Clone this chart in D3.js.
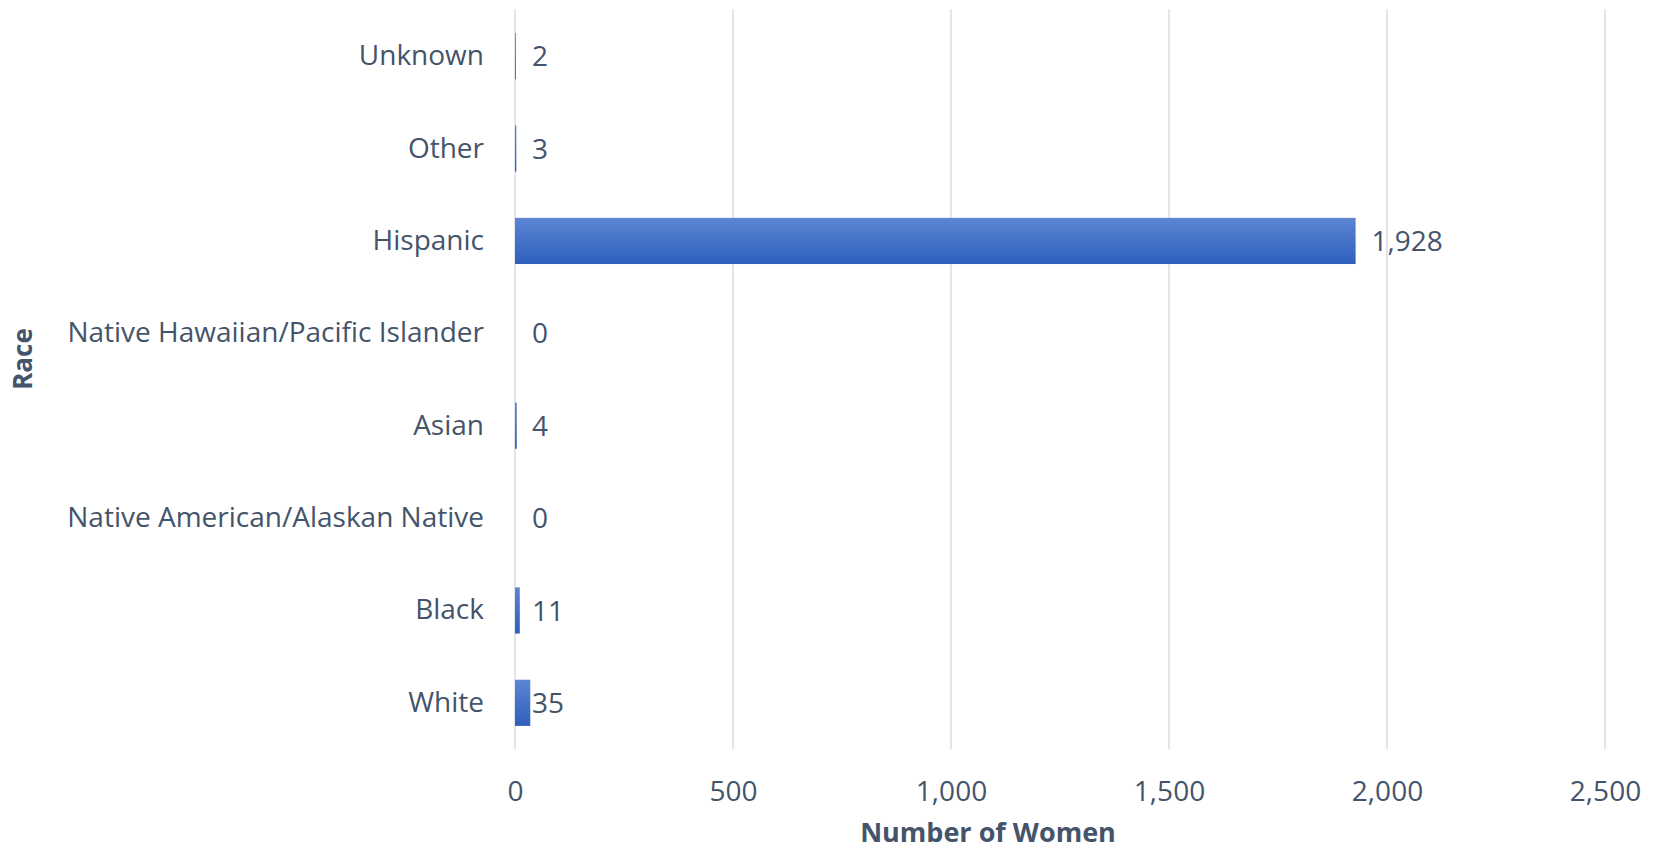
<!DOCTYPE html>
<html lang="en">
<head>
<meta charset="utf-8">
<title>Race - Number of Women</title>
<script src="https://d3js.org/d3.v7.min.js"></script>
<style>
  body { margin: 0; background: #fff; }
  .chart text { font-family: "Open Sans", sans-serif; fill: #44546a; }
</style>
</head>
<body>
<div id="chart" class="chart"></div>
<script>
// data, bottom to top as in the picture
var races = ["White", "Black", "Native American/Alaskan Native", "Asian",
             "Native Hawaiian/Pacific Islander", "Hispanic", "Other", "Unknown"];
var women = [35, 11, 0, 4, 0, 1928, 3, 2];
var xTicks = [0, 500, 1000, 1500, 2000, 2500];

var W = 1657, H = 852;
var margin = {top: 10, right: 52, bottom: 103, left: 515};

var svg = d3.select("#chart").append("svg")
  .attr("width", W).attr("height", H);

var defs = svg.append("defs");
var grad = defs.append("linearGradient")
  .attr("id", "barFill").attr("x1", 0).attr("y1", 0).attr("x2", 0).attr("y2", 1);
grad.append("stop").attr("offset", "0%").attr("stop-color", "#5d86d3");
grad.append("stop").attr("offset", "100%").attr("stop-color", "#2d5fbd");

var x = d3.scaleLinear().domain([0, 2500]).range([margin.left, W - margin.right]);
var y = d3.scaleBand()
  .domain(races.slice().reverse())
  .range([margin.top, H - margin.bottom])
  .paddingInner(0.5)
  .paddingOuter(0.25);

// gridlines
svg.append("g").selectAll("line")
  .data(xTicks)
  .join("line")
  .attr("x1", d => x(d)).attr("x2", d => x(d))
  .attr("y1", margin.top - 1).attr("y2", H - margin.bottom)
  .attr("stroke", "#dadde3").attr("stroke-width", 1.5);

// bars
var data = races.map((r, i) => ({race: r, n: women[i]}));
svg.append("g").selectAll("rect")
  .data(data)
  .join("rect")
  .attr("x", x(0))
  .attr("y", d => y(d.race))
  .attr("width", d => x(d.n) - x(0))
  .attr("height", y.bandwidth())
  .attr("fill", "url(#barFill)");

// value labels
svg.append("g").selectAll("text")
  .data(data)
  .join("text")
  .attr("x", d => (x(d.n) - x(0) < 20) ? x(0) + 17 : x(d.n) + 16)
  .attr("y", d => y(d.race) + y.bandwidth() / 2)
  .attr("dy", "0.36em")
  .style("font-size", "28px")
  .text(d => d3.format(",")(d.n));

// category labels
var yAxis = svg.append("g")
  .attr("transform", "translate(" + x(0) + ",0)")
  .call(d3.axisLeft(y).tickSize(0).tickPadding(31));
yAxis.select(".domain").remove();
yAxis.selectAll("text").style("font-size", "28px").attr("fill", "#44546a");

// x tick labels
var xAxis = svg.append("g")
  .attr("transform", "translate(0," + (H - margin.bottom) + ")")
  .call(d3.axisBottom(x).tickValues(xTicks).tickSize(0).tickPadding(32)
        .tickFormat(d3.format(",")));
xAxis.select(".domain").remove();
xAxis.selectAll("text").style("font-size", "28px").attr("fill", "#44546a");

// axis titles
svg.append("text")
  .attr("x", 988).attr("y", 842)
  .attr("text-anchor", "middle")
  .style("font-size", "27px").style("font-weight", "bold")
  .text("Number of Women");

svg.append("text")
  .attr("transform", "translate(32,359) rotate(-90)")
  .attr("text-anchor", "middle")
  .style("font-size", "26px").style("font-weight", "bold")
  .text("Race");
</script>
</body>
</html>
